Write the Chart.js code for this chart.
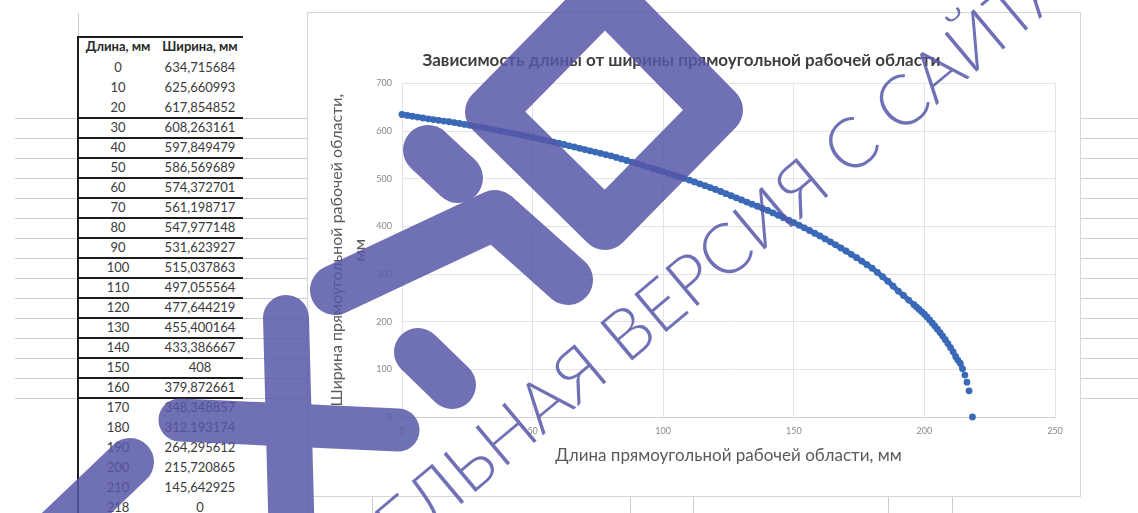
<!DOCTYPE html>
<html><head><meta charset="utf-8">
<script src="https://cdn.jsdelivr.net/npm/chart.js@4/dist/chart.umd.min.js"></script>
<style>
html,body{margin:0;padding:0;background:#fff;}
#page{position:relative;width:1138px;height:513px;overflow:hidden;background:#fff;font-family:Lato,'Open Sans',sans-serif;}
.hl{position:absolute;height:1px;background:#cdcdcd;}
.vl{position:absolute;width:1px;background:#cdcdcd;}
.bk{position:absolute;background:#1c1c1c;}
.cell{position:absolute;height:20px;line-height:20px;text-align:center;font-size:13px;color:#3a3a3a;white-space:nowrap;}
.hd{font-weight:bold;font-size:13px;color:#2a2a2a;}
#chartbox{position:absolute;left:307px;top:12px;width:772px;height:483px;border:1px solid #d6d6d6;background:#fff;}
#wm{position:absolute;left:0;top:0;pointer-events:none;}
</style></head>
<body><div id="page">
<div id="sheet"></div>
<div id="chartbox"><canvas id="c" width="772" height="483"></canvas></div>
<svg id="wm" width="1138" height="513" xmlns="http://www.w3.org/2000/svg">
 <g opacity="0.85">
  <g stroke="#5758a9" fill="none" stroke-linecap="round" stroke-linejoin="round">
   <polygon points="490,112 605,-5 718,110 605,225" stroke-width="50"/>
   <polyline points="335,290 495,215 568,280" stroke-width="50"/>
   <line x1="428" y1="150" x2="458" y2="178" stroke-width="50"/>
   <line x1="418" y1="352" x2="452" y2="385" stroke-width="48"/>
   <line x1="180" y1="420" x2="398" y2="430" stroke-width="43"/>
   <line x1="286" y1="318" x2="292" y2="545" stroke-width="46"/>
   <line x1="40" y1="548" x2="130" y2="462" stroke-width="48"/>
  </g>
  <text x="566" y="416" transform="rotate(-40 566 416)" text-anchor="middle" font-family="Lato" font-weight="300" font-size="70" fill="#5758a9">ОЗНАКОМИТЕЛЬНАЯ ВЕРСИЯ С САЙТА</text>
 </g>
</svg>
</div>
<script>
// ---- table data (as shown in the sheet) ----
const tableLengths = [0,10,20,30,40,50,60,70,80,90,100,110,120,130,140,150,160,170,180,190,200,210,218];
const tableWidths = ['634,715684','625,660993','617,854852','608,263161','597,849479','586,569689','574,372701','561,198717','547,977148','531,623927','515,037863','497,055564','477,644219','455,400164','433,386667','408','379,872661','348,348857','312,193174','264,295612','215,720865','145,642925','0'];
const tableHeaders = ['Длина, мм','Ширина, мм'];

// ---- chart data ----
const lengthMm = [0,2,4,6,8,10,12,14,16,18,20,22,24,26,28,30,32,34,36,38,40,42,44,46,48,50,52,54,56,58,60,62,64,66,68,70,72,74,76,78,80,82,84,86,88,90,92,94,96,98,100,102,104,106,108,110,112,114,116,118,120,122,124,126,128,130,132,134,136,138,140,142,144,146,148,150,152,154,156,158,160,162,164,166,168,170,172,174,176,178,180,182,184,186,188,190,192,194,196,197,198,199,200,201,202,203,204,205,206,207,208,209,210,211,212,212.8,213.7,214.6,215.5,216.3,217.1,218.4];
const widthMm = [634.7,632.9,631.1,629.3,627.5,625.7,624.1,622.6,621.0,619.5,617.9,616.0,614.0,612.1,610.2,608.3,606.2,604.1,602.0,599.9,597.8,595.6,593.3,591.1,588.8,586.6,584.2,581.7,579.3,576.8,574.4,571.8,569.1,566.5,563.8,561.2,558.6,555.9,553.3,550.6,548.0,544.7,541.5,538.2,534.9,531.6,528.3,525.0,521.6,518.3,515.0,511.4,507.8,504.3,500.7,497.1,493.2,489.3,485.4,481.5,477.6,473.2,468.7,464.3,459.8,455.4,451.0,446.6,442.2,437.8,433.4,428.3,423.2,418.2,413.1,408.0,402.5,396.9,391.3,385.6,379.9,373.7,367.5,361.2,354.8,348.3,341.4,334.3,327.1,319.7,312.2,303.4,294.3,284.9,274.8,264.3,254.9,245.3,235.6,230.7,225.7,220.7,215.7,209.8,203.7,197.4,190.9,184.1,177.2,169.8,162.2,154.1,145.6,136.7,126.5,119.5,113,101,88,73,55,0];
const xTicks = [0,50,100,150,200,250];
const yTicks = [0,100,200,300,400,500,600,700];
const chartTitle = 'Зависимость длины от ширины прямоугольной рабочей области';
const xTitle = 'Длина прямоугольной рабочей области, мм';
const yTitle = ['Ширина прямоугольной рабочей области,','мм'];

// ---- spreadsheet decoration ----
const sheet = document.getElementById('sheet');
function add(cls, css, text){const d=document.createElement('div');d.className=cls;Object.assign(d.style,css);if(text!==undefined)d.textContent=text;sheet.appendChild(d);return d;}
for(let i=0;i<15;i++){
  const y=118+20*i;
  add('hl',{left:'15px',top:y+'px',width:'63px'});
  add('hl',{left:'243px',top:y+'px',width:'64px'});
  add('hl',{left:'1080px',top:y+'px',width:'58px'});
  add('bk',{left:'78px',top:(y-1)+'px',width:'165px',height:'2px'});
}
add('vl',{left:'78px',top:'13px',height:'25px'});
add('vl',{left:'307px',top:'13px',height:'500px'});
[372,630,693,888,952].forEach(x=>add('vl',{left:x+'px',top:'496px',height:'17px'}));
add('bk',{left:'77px',top:'36px',width:'166px',height:'2px'});
add('bk',{left:'77px',top:'36px',width:'2px',height:'477px'});
add('cell hd',{left:'79px',top:'36px',width:'78px'},tableHeaders[0]);
add('cell hd',{left:'157px',top:'36px',width:'86px'},tableHeaders[1]);
tableLengths.forEach((v,i)=>{
  const t=57+20*i;
  add('cell',{left:'79px',top:t+'px',width:'78px'},String(v));
  add('cell',{left:'157px',top:t+'px',width:'86px'},tableWidths[i]);
});

// ---- chart ----
const pts = lengthMm.map((x,i)=>({x:x,y:widthMm[i]}));
const markerBlue = '#3a69b8';
new Chart(document.getElementById('c'),{
  type:'scatter',
  data:{datasets:[{data:pts,pointRadius:3.4,pointHoverRadius:3.4,pointBackgroundColor:markerBlue,pointBorderWidth:0,
    showLine:true,borderColor:markerBlue,borderWidth:5,
    segment:{borderColor:ctx=>ctx.p0.parsed.x>=214?'rgba(0,0,0,0)':markerBlue},
    clip:false}]},
  options:{
    responsive:false,animation:false,devicePixelRatio:1,
    layout:{padding:{top:0,right:25,bottom:0,left:0}},
    plugins:{
      legend:{display:false},tooltip:{enabled:false},
      title:{display:true,text:chartTitle,color:'#3f3f3f',font:{family:'Lato',size:17,weight:'bold'},padding:{top:37,bottom:13}}
    },
    scales:{
      x:{type:'linear',min:0,max:250,
        afterBuildTicks:s=>{s.ticks=xTicks.map(v=>({value:v}));},
        ticks:{color:'#8a8a8a',font:{family:'Lato',size:9},padding:9},
        grid:{color:'#e4e4e4',drawTicks:false},
        border:{color:'#cfcfcf'},
        title:{display:true,text:xTitle,color:'#5a5a5a',font:{family:'Lato',size:17},padding:{top:0,bottom:30}},
        afterFit:s=>{s.height=79;}
      },
      y:{type:'linear',min:0,max:700,
        afterBuildTicks:s=>{s.ticks=yTicks.map(v=>({value:v}));},
        ticks:{color:'#8a8a8a',font:{family:'Lato',size:9},padding:10},
        grid:{color:'#e4e4e4',drawTicks:false},
        border:{display:false},
        title:{display:true,text:yTitle,color:'#5a5a5a',font:{family:'Lato',size:16,lineHeight:1.4},padding:{top:18,bottom:0}},
        afterFit:s=>{s.width=94;}
      }
    }
  }
});
</script>
</body></html>
